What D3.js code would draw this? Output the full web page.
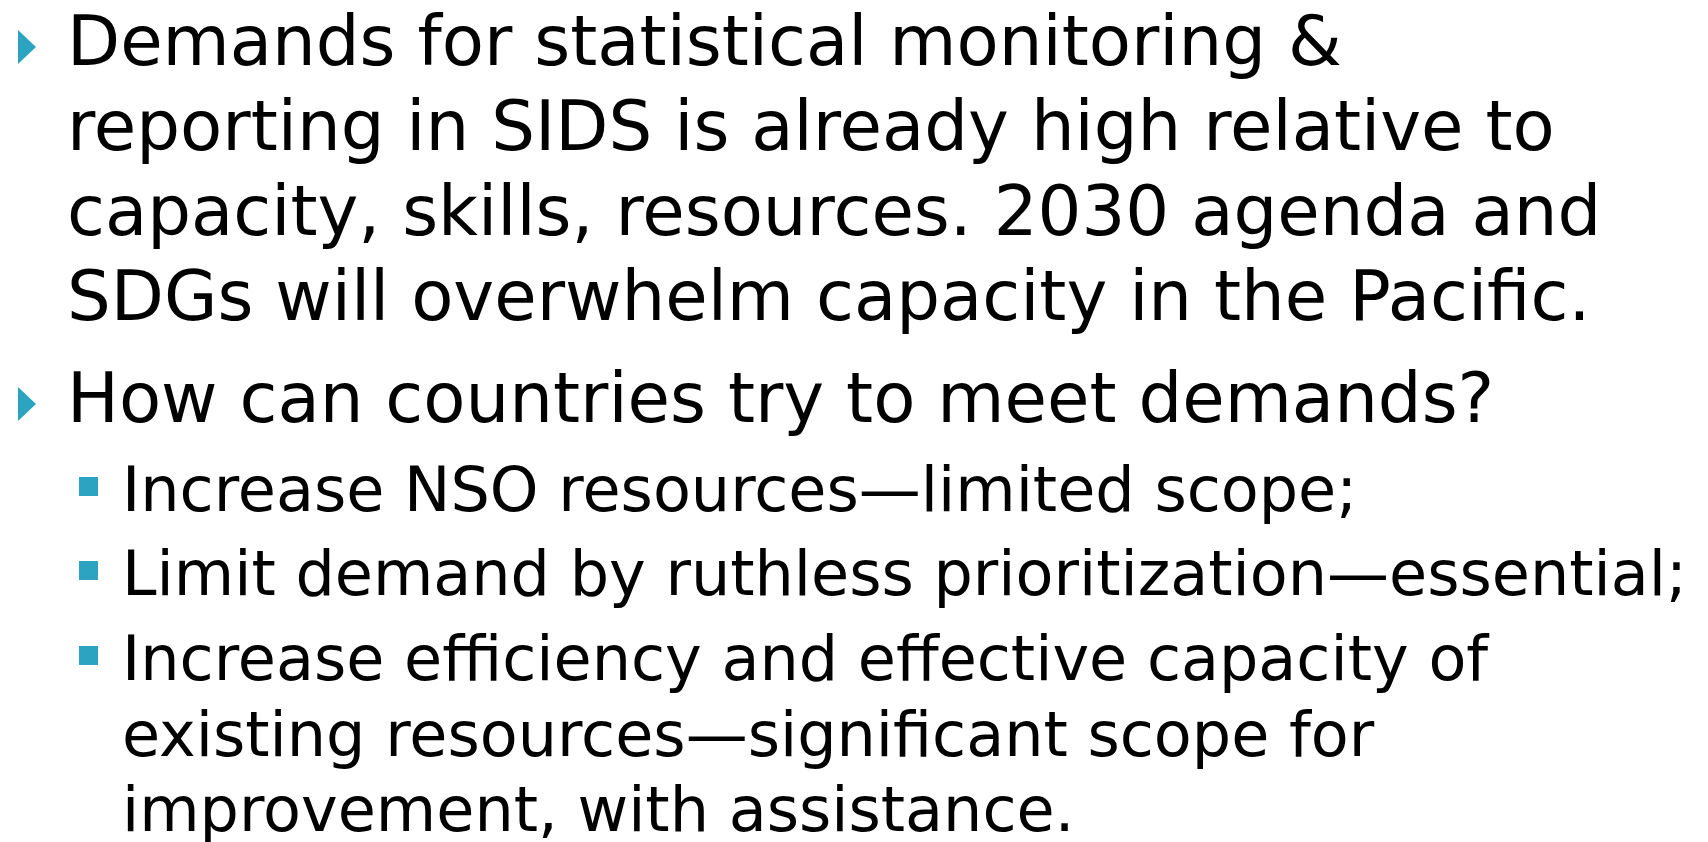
<!DOCTYPE html>
<html><head><meta charset="utf-8">
<script src="https://cdn.jsdelivr.net/npm/d3@7"></script>
<style>html,body{margin:0;padding:0;background:#fff;overflow:hidden}</style>
</head><body>
<script>
const lines = [
  "Demands for statistical monitoring &",
  "reporting in SIDS is already high relative to",
  "capacity, skills, resources. 2030 agenda and",
  "SDGs will overwhelm capacity in the Pacific.",
  "How can countries try to meet demands?",
  "Increase NSO resources\u2014limited scope;",
  "Limit demand by ruthless prioritization\u2014essential;",
  "Increase efficiency and effective capacity of",
  "existing resources\u2014significant scope for",
  "improvement, with assistance."
];
const levels = [1,1,1,1,1,2,2,2,2,2];
const bulletStart = [true,false,false,false,true,true,true,true,false,false];
const baselines = [65,150,235,320,422,511,595,680,756,831];

const W = 1708, H = 842;
const svg = d3.select("body").append("svg").attr("width", W).attr("height", H);
const accent = "#2ca3c1";
const cfg = {1:{x:67, size:69}, 2:{x:122, size:62}};

const rows = lines.map((t,i)=>({t, level:levels[i], b:bulletStart[i], y:baselines[i]}));

svg.selectAll("text.line").data(rows).join("text")
  .attr("class","line")
  .attr("x", d=>cfg[d.level].x)
  .attr("y", d=>d.y)
  .attr("font-family","DejaVu Sans, sans-serif")
  .attr("font-size", d=>cfg[d.level].size)
  .attr("fill","#000")
  .text(d=>d.t);

svg.selectAll("path.tri").data(rows.filter(d=>d.b && d.level===1)).join("path")
  .attr("class","tri")
  .attr("d", d=>{ const c = d.y-18; return `M18,${c-17}L36,${c}L18,${c+17}Z`; })
  .attr("fill", accent);

svg.selectAll("rect.sq").data(rows.filter(d=>d.b && d.level===2)).join("rect")
  .attr("class","sq")
  .attr("x",79).attr("width",19).attr("height",19)
  .attr("y", d=>d.y-34)
  .attr("fill", accent);
</script>
</body></html>
